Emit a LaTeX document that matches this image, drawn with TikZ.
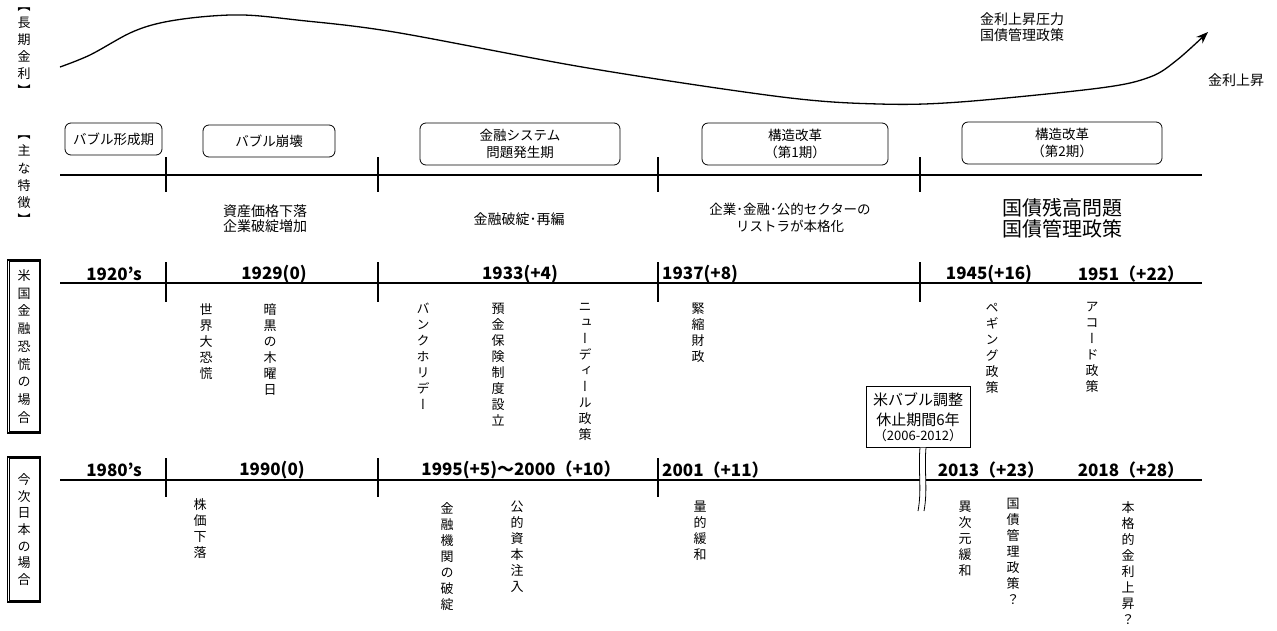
\documentclass[tikz,border=0pt]{standalone}
\usepackage{fontspec}
\setmainfont{Noto Sans CJK JP}
\newfontfamily\jp{Noto Sans CJK JP}
\newfontfamily\vjp[RawFeature=+vert]{Noto Sans CJK JP}
\usetikzlibrary{arrows.meta,calc}
\begin{document}
\begin{tikzpicture}[x=1pt,y=-1pt,
  tl/.style={line width=2pt},
  rbox/.style={draw, rounded corners=6pt, line width=0.8pt, inner sep=0pt, align=center,
     font=\jp\fontsize{13.5}{17}\selectfont},
  dbox/.style={draw, line width=1.4pt, inner sep=0pt, align=center,
     minimum width=33pt, font=\vjp\fontsize{13}{17.75}\selectfont},
  inbox/.style={line width=0.6pt},
  yr/.style={inner sep=0pt, font=\jp\bfseries\fontsize{17}{19}\selectfont},
  tx/.style={inner sep=0pt, align=center, font=\jp\fontsize{14}{15.5}\selectfont},
  vt/.style={inner sep=0pt, align=center, anchor=north, font=\vjp\fontsize{13}{16}\selectfont},
  sidelab/.style={inner sep=0pt, align=center, anchor=north, font=\vjp\fontsize{13}{17}\selectfont}
]
\useasboundingbox (0,0) rectangle (1277,630);

% ---- long-term rate curve ----
\draw[line width=1.3pt, -{Stealth[length=12pt,width=9pt]}] plot[smooth, tension=0.55] coordinates
 {(60,67) (90,55) (130,33) (160,23) (200,17) (244,15) (297,20) (394,32) (588,68) (782,97) (879,104) (960,102) (1100,88) (1150,77) (1177,60) (1208,32)};
\node[anchor=west, inner sep=0pt, align=left, font=\jp\fontsize{14}{16}\selectfont] (press) at (980,27) {金利上昇圧力\\国債管理政策};
\node[tx] (rise) at (1236,80) {金利上昇};

% ---- side labels ----
\node[sidelab] (l1) at (24,7.5) {【\\長\\期\\金\\利\\】};
\node[sidelab, font=\vjp\fontsize{13}{17.3}\selectfont] (l2) at (24,135.5) {【\\主\\な\\特\\徴\\】};
\node[dbox, minimum height=173pt] (l3) at (24,346.5) {米\\国\\金\\融\\恐\\慌\\の\\場\\合};
\draw[inbox] ($(l3.north west)+(2.4,2.4)$) rectangle ($(l3.south east)+(-2.4,-2.4)$);
\node[dbox, minimum height=145pt, font=\vjp\fontsize{13}{16.7}\selectfont] (l4) at (24,529.5) {今\\次\\日\\本\\の\\場\\合};
\draw[inbox] ($(l4.north west)+(2.4,2.4)$) rectangle ($(l4.south east)+(-2.4,-2.4)$);

% ---- row 2: features ----
\coordinate (r2a) at (60,175); \coordinate (r2b) at (1202,175);
\draw[tl] (r2a) -- (r2b);
\foreach \x in {166,378,658,920} \draw[tl] (\x,157) -- (\x,192);
\node[rbox, minimum width=97pt, minimum height=32pt] (b1) at (113.5,139) {バブル形成期};
\node[rbox, minimum width=132pt, minimum height=32pt] (b2) at (269,141) {バブル崩壊};
\node[rbox, minimum width=200pt, minimum height=42pt] (b3) at (520,144) {金融システム\\問題発生期};
\node[rbox, minimum width=186pt, minimum height=42pt] (b4) at (795,144) {構造改革\\（第1期）};
\node[rbox, minimum width=200pt, minimum height=42pt] (b5) at (1062,143) {構造改革\\（第2期）};
\node[tx] (f1) at (265,218.5) {資産価格下落\\企業破綻増加};
\node[tx] (f2) at (519,219) {金融破綻･再編};
\node[tx, font=\jp\fontsize{13.5}{17}\selectfont] (f3) at (790,217.5) {企業･金融･公的セクターの\\リストラが本格化};
\node[tx, font=\jp\fontsize{20}{21.5}\selectfont] (f4) at (1062,218.5) {国債残高問題\\国債管理政策};

% ---- row 3: US ----
\coordinate (r3a) at (60,283); \coordinate (r3b) at (1202,283);
\draw[tl] (r3a) -- (r3b);
\foreach \x in {166,378,658,920} \draw[tl] (\x,262) -- (\x,302);
\node[yr] (u1) at (114,274) {1920’s};
\node[yr] (u2) at (274,274) {1929(0)};
\node[yr] (u3) at (520,274) {1933(+4)};
\node[yr, anchor=west] (u4) at (662,274) {1937(+8)};
\node[yr] (u5) at (989,274) {1945(+16)};
\node[yr] (u6) at (1131,274) {1951（+22）};
\node[vt] (v1) at (206,303) {世\\界\\大\\恐\\慌};
\node[vt] (v2) at (270,303) {暗\\黒\\の\\木\\曜\\日};
\node[vt] (v3) at (423,303) {バ\\ン\\ク\\ホ\\リ\\デ\\ー};
\node[vt] (v4) at (498,303) {預\\金\\保\\険\\制\\度\\設\\立};
\node[vt] (v5) at (585,303) {ニ\\ュ\\ー\\デ\\ィ\\ー\\ル\\政\\策};
\node[vt] (v6) at (698,303) {緊\\縮\\財\\政};
\node[vt] (v7) at (992,303) {ペ\\ギ\\ン\\グ\\政\\策};
\node[vt] (v8) at (1092,302) {ア\\コ\\ー\\ド\\政\\策};

% ---- row 4: Japan ----
\coordinate (r4a) at (60,480); \coordinate (r4b) at (1202,480);
\draw[tl] (r4a) -- (r4b);
\foreach \x in {166,378,658} \draw[tl] (\x,458) -- (\x,497);
\node[yr] (j1) at (114,470) {1980’s};
\node[yr] (j2) at (272,470) {1990(0)};
\node[yr] (j3) at (521,470) {1995(+5)～2000（+10）};
\node[yr, anchor=west] (j4) at (662,470) {2001（+11）};
\node[yr] (j5) at (991,470) {2013（+23）};
\node[yr] (j6) at (1131,470) {2018（+28）};
\node[vt] (w1) at (200,498) {株\\価\\下\\落};
\node[vt] (w2) at (447,502) {金\\融\\機\\関\\の\\破\\綻};
\node[vt] (w3) at (517,501) {公\\的\\資\\本\\注\\入};
\node[vt] (w4) at (700,501) {量\\的\\緩\\和};
\node[vt] (w5) at (965,501) {異\\次\\元\\緩\\和};
\node[vt] (w6) at (1013,498) {国\\債\\管\\理\\政\\策\\？};
\node[vt] (w7) at (1128,501) {本\\格\\的\\金\\利\\上\\昇\\？};

% ---- callout and break mark ----
\node[draw, line width=0.8pt, minimum width=104pt, minimum height=61pt, inner sep=0pt] (cb) at (918,416.5) {};
\node[tx, font=\jp\fontsize{15}{17}\selectfont] (c1) at (918,400) {米バブル調整};
\node[tx, font=\jp\fontsize{15}{17}\selectfont] (c2) at (918,420) {休止期間6年};
\node[tx, font=\jp\fontsize{13}{15}\selectfont] (c3) at (918,436) {（2006-2012）};
\fill[white] (920,447.5) .. controls (918,470) and (922,490) .. (918,511)
  -- (924,511) .. controls (928,490) and (924,470) .. (926,447.5) -- cycle;
\draw[line width=0.8pt] (920,447.5) .. controls (918,470) and (922,490) .. (918,511);
\draw[line width=0.8pt] (926,447.5) .. controls (924,470) and (928,490) .. (924,511);
\end{tikzpicture}
\end{document}
